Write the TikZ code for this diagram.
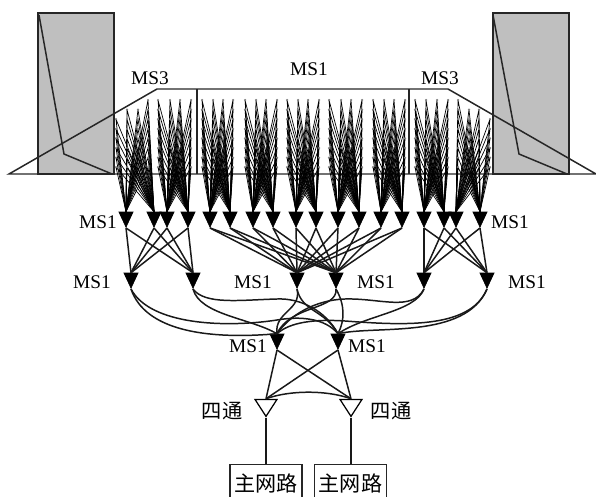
\documentclass[tikz,border=0pt]{standalone}
\usepackage{fontspec}
\setmainfont{Liberation Serif}
\newfontfamily\cjk{Noto Sans CJK SC}
\usetikzlibrary{shapes.geometric}
\begin{document}
\begin{tikzpicture}[
    x=0.02cm, y=-0.02cm,
    every node/.style={font=\fontsize{11}{12}\selectfont},
    panelbox/.style={draw=black!85, line width=1.5pt, fill=gray!50},
    outline/.style={draw=black!85, line width=0.85pt},
    fanline/.style={draw=black, line width=0.4pt},
    busline/.style={draw=black!90, line width=0.85pt},
    elemdot/.style={circle, fill=gray, inner sep=0pt, minimum size=0.5mm},
    combiner/.style={isosceles triangle, isosceles triangle stretches, shape border rotate=270,
                     draw=black, fill=black, inner sep=0pt, minimum width=0.28cm, minimum height=0.3cm,
                     anchor=apex},
    splitter/.style={combiner, fill=white, line width=0.7pt, minimum width=0.44cm, minimum height=0.34cm},
    netbox/.style={rectangle, draw=black!85, line width=0.85pt, minimum width=1.44cm, minimum height=0.76cm,
                   anchor=north, inner sep=0pt, font=\cjk\fontsize{12}{12}\selectfont},
    cjklabel/.style={font=\cjk\fontsize{11.5}{12}\selectfont}
]
  \useasboundingbox (0,0) rectangle (596,497);

  % Panels
  \path[panelbox] (38,13) rectangle (114,174);
  \path[panelbox] (493,13) rectangle (569,174);
  \draw[outline] (39,15) -- (64,154) -- (112,174);
  \draw[outline] (493,15) -- (519,154) -- (567,174);

  % Feed outline
  \coordinate (tl) at (9,174);
  \coordinate (tr) at (596,174);
  \draw[outline] (tl) -- (157,89) -- (448,89) -- (tr) -- cycle;
  \draw[outline] (197,89) -- (197,174);
  \draw[outline] (409,89) -- (409,174);

  \node (ms3l) at (150,78) {MS3};
  \node (ms1t) at (309,69) {MS1};
  \node (ms3r) at (440,78) {MS3};

  % First row of combiners
  \foreach \i/\x in {1/126,2/154,3/167,4/188,5/210,6/230,7/253,8/273,9/296,
                     10/316,11/338,12/359,13/381,14/402,15/424,16/444,17/456,18/480}
    \node[combiner] (a\i) at (\x,228) {};

  % Second and third rows
  \foreach \i/\x in {1/131,2/193,3/297,4/336,5/424,6/487}
    \node[combiner] (b\i) at (\x,289) {};
  \node[combiner] (c1) at (277,350) {};
  \node[combiner] (c2) at (338,350) {};

  % Splitters and main lines
  \node[splitter] (d1) at (266,418) {};
  \node[splitter] (d2) at (351,418) {};
  \node[netbox] (e1) at (266,464) {主网路};
  \node[netbox] (e2) at (350.5,464) {主网路};

  % Elements to first row
  \foreach \ta/\tb/\cols in {
      a1/a2/{116/2,127/1,138/1,148/0},
      a3/a4/{158/0,170/0,180/0,191/0},
      a5/a6/{202/0,213/0,223/0,233/0},
      a7/a8/{245/0,256/0,266/0,277/0},
      a9/a10/{287/0,298/0,308/0,319/0},
      a11/a12/{329/0,341/0,351/0,362/0},
      a13/a14/{373/0,384/0,394/0,405/0},
      a15/a16/{415/0,426/0,437/0,448/0},
      a17/a18/{458/0,469/1,479/1,490/2}}
    \foreach \x/\s in \cols
      \foreach \r in {\s,...,7} {
        \coordinate (elem) at (\x,100+9.6*\r);
        \draw[fanline] (elem) -- (\ta.lower side) (elem) -- (\tb.lower side);
        \node[elemdot] (dot) at (elem) {};
      }

  % First row to second row
  \foreach \a in {1,2,3,4}
    \foreach \b in {1,2}
      \draw[busline] (a\a.apex) -- (b\b.lower side);
  \foreach \a in {5,...,14}
    \foreach \b in {3,4}
      \draw[busline] (a\a.apex) -- (b\b.lower side);
  \foreach \a in {15,16,17,18}
    \foreach \b in {5,6}
      \draw[busline] (a\a.apex) -- (b\b.lower side);

  % Second row to third row
  \draw[busline] (b1.apex) .. controls (145,330) and (205,340) .. (c1.lower side);
  \draw[busline] (b1.apex) .. controls (150,325) and (225,328) .. (277,320)
                           .. controls (300,316) and (325,318) .. (c2.lower side);
  \draw[busline] (b2.apex) .. controls (200,315) and (250,318) .. (c1.lower side);
  \draw[busline] (b2.apex) .. controls (205,305) and (240,300) .. (277,299)
                           .. controls (300,298) and (325,310) .. (c2.lower side);
  \draw[busline] (b3.apex) .. controls (302,310) and (274,312) .. (c1.lower side);
  \draw[busline] (b3.apex) .. controls (302,312) and (325,310) .. (c2.lower side);
  \draw[busline] (b4.apex) .. controls (338,310) and (290,305) .. (c1.lower side);
  \draw[busline] (b4.apex) .. controls (345,305) and (345,320) .. (c2.lower side);
  \draw[busline] (b5.apex) .. controls (412,312) and (380,298) .. (345,299)
                           .. controls (315,300) and (290,315) .. (c1.lower side);
  \draw[busline] (b5.apex) .. controls (415,312) and (365,315) .. (c2.lower side);
  \draw[busline] (b6.apex) .. controls (470,330) and (400,325) .. (345,321)
                           .. controls (315,319) and (290,322) .. (c1.lower side);
  \draw[busline] (b6.apex) .. controls (465,340) and (375,325) .. (c2.lower side);

  % Third row to splitters
  \foreach \c in {1,2}
    \foreach \d in {1,2}
      \draw[busline] (c\c.apex) -- (d\d.lower side);
  \draw[busline] (d1.lower side) .. controls (290,390) and (327,390) .. (d2.lower side);
  \draw[busline] (d1.apex) -- (e1.north -| d1.apex);
  \draw[busline] (d2.apex) -- (e2.north -| d2.apex);

  % Labels
  \node (la1) at (98,222) {MS1};
  \node (la2) at (510,222) {MS1};
  \node (lb1) at (92,282) {MS1};
  \node (lb2) at (253,282) {MS1};
  \node (lb3) at (376,282) {MS1};
  \node (lb4) at (527,282) {MS1};
  \node (lc1) at (248,346) {MS1};
  \node (lc2) at (367,346) {MS1};
  \node[cjklabel] (ld1) at (222,411) {四通};
  \node[cjklabel] (ld2) at (391,411) {四通};
\end{tikzpicture}
\end{document}
